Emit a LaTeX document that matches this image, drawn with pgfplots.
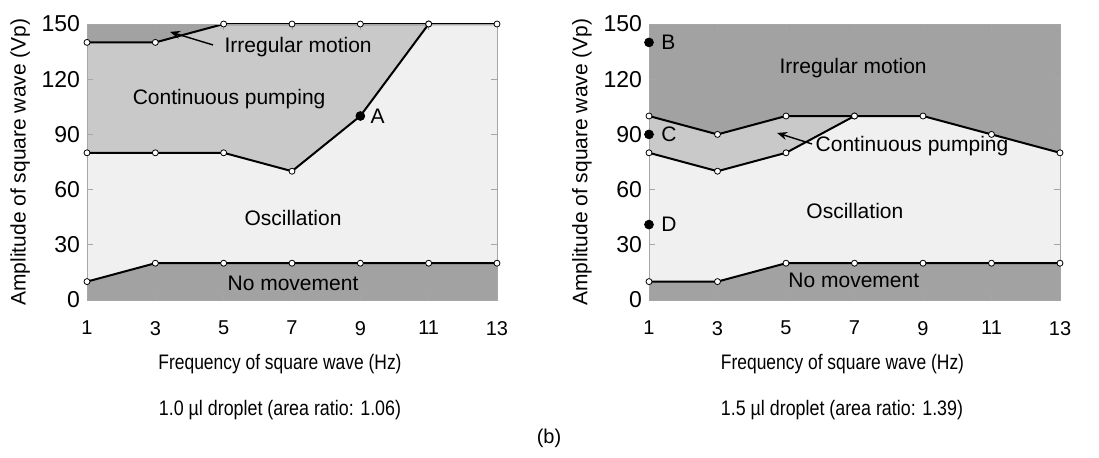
\documentclass[border=0pt]{standalone}
\usepackage{pgfplots}
\pgfplotsset{compat=1.18}
\usepackage{fontspec}
\setmainfont{Liberation Sans}
\usetikzlibrary{arrows.meta}

\definecolor{darkreg}{HTML}{A2A2A2}
\definecolor{midreg}{HTML}{C9C9C9}
\definecolor{lightreg}{HTML}{F0F0F0}

\pgfplotsset{
  regime/.style={
    scale only axis,
    width=205pt, height=138pt,
    xmin=1, xmax=13, ymin=0, ymax=150,
    xtick={1,3,...,13}, ytick={0,30,...,150},
    tick align=inside,
    major tick length=3pt,
    axis line style={gray!70, line width=0.5pt},
    tick style={gray!70, line width=0.5pt},
    clip=false,
    axis on top,
    /pgf/number format/assume math mode=true,
    xticklabel style={font=\fontsize{10}{12}\selectfont, yshift=-7pt},
    yticklabel style={font=\fontsize{11.5}{13}\selectfont},
    ylabel style={font=\fontsize{10.5}{12}\selectfont, at={(axis description cs:-0.163,0.5)}, anchor=center},
    xlabel style={font=\fontsize{10.5}{12}\selectfont, at={(axis description cs:0.5,0)}, anchor=center, yshift=-32pt, xshift=-6pt},
  },
  bound/.style={black, line width=1pt, mark=*, mark size=1.5pt, mark options={fill=white, draw=black, line width=0.4pt}},
  dot/.style={only marks, mark=*, mark size=2.2pt, mark options={fill=black, draw=black}},
}
\newcommand{\lbl}{\fontsize{10.5}{12}\selectfont}

\begin{document}
\begin{tikzpicture}
% left: 1.0 ul droplet
\begin{axis}[regime, at={(43.5pt,78.5pt)}, anchor=south west,
  ylabel={Amplitude of square wave (Vp)},
  xlabel={\scalebox{0.83}[1]{Frequency of square wave (Hz)}}]
\addplot[draw=none, fill=darkreg] coordinates {(1,0) (13,0) (13,150) (1,150)};
\addplot[draw=none, fill=midreg] coordinates {(1,140) (3,140) (5,150) (11,150) (9,100) (7,70) (5,80) (3,80) (1,80)};
\addplot[draw=none, fill=lightreg] coordinates {(1,80) (3,80) (5,80) (7,70) (9,100) (11,150) (13,150) (13,20) (11,20) (9,20) (7,20) (5,20) (3,20) (1,10)};
\addplot[bound] coordinates {(1,10) (3,20) (5,20) (7,20) (9,20) (11,20) (13,20)};
\addplot[bound] coordinates {(1,80) (3,80) (5,80) (7,70) (9,100) (11,150)};
\addplot[bound] coordinates {(1,140) (3,140) (5,150) (7,150) (9,150) (11,150) (13,150)};
\addplot[dot] coordinates {(9,100)};
\node[anchor=west, inner sep=0pt, font=\lbl] at (axis cs:9,100) [xshift=5pt] {A};
\node[font=\lbl] at (axis cs:7.18,137.5) {Irregular motion};
\node[font=\lbl] at (axis cs:5.16,109) {Continuous pumping};
\node[font=\lbl] at (axis cs:7.03,44.6) {Oscillation};
\node[font=\lbl] at (axis cs:7.03,9.2) {No movement};
\draw[-{Stealth[length=5pt,width=4pt]}, line width=0.7pt] (axis cs:4.69,138.6) -- (axis cs:3.43,145.7);
\end{axis}
\node[font=\fontsize{10.5}{12}\selectfont] at (140pt,23.5pt) {\scalebox{0.85}[1]{1.0 µl droplet (area ratio: 1.06)}};

% right: 1.5 ul droplet
\begin{axis}[regime, at={(324.5pt,78.5pt)}, anchor=south west,
  width=205.5pt,
  ylabel={Amplitude of square wave (Vp)},
  xlabel={\scalebox{0.83}[1]{Frequency of square wave (Hz)}}]
\addplot[draw=none, fill=darkreg] coordinates {(1,0) (13,0) (13,150) (1,150)};
\addplot[draw=none, fill=midreg] coordinates {(1,100) (3,90) (5,100) (7,100) (5,80) (3,70) (1,80)};
\addplot[draw=none, fill=lightreg] coordinates {(1,80) (3,70) (5,80) (7,100) (9,100) (11,90) (13,80) (13,20) (11,20) (9,20) (7,20) (5,20) (3,10) (1,10)};
\addplot[bound] coordinates {(1,10) (3,10) (5,20) (7,20) (9,20) (11,20) (13,20)};
\addplot[bound] coordinates {(1,80) (3,70) (5,80) (7,100) (9,100) (11,90) (13,80)};
\addplot[bound] coordinates {(1,100) (3,90) (5,100) (7,100)};
\addplot[dot] coordinates {(1,140) (1,90) (1,41)};
\node[anchor=west, inner sep=0pt, font=\lbl] at (axis cs:1,140) [xshift=6pt] {B};
\node[anchor=west, inner sep=0pt, font=\lbl] at (axis cs:1,90) [xshift=6pt] {C};
\node[anchor=west, inner sep=0pt, font=\lbl] at (axis cs:1,41) [xshift=6pt] {D};
\node[font=\lbl] at (axis cs:6.96,126) {Irregular motion};
\node[font=\lbl] at (axis cs:8.68,83.7) {Continuous pumping};
\node[font=\lbl] at (axis cs:7.01,48.4) {Oscillation};
\node[font=\lbl] at (axis cs:6.98,10.9) {No movement};
\draw[-{Stealth[length=5pt,width=4pt]}, line width=0.7pt] (axis cs:5.76,84.8) -- (axis cs:4.74,90.8);
\end{axis}
\node[font=\fontsize{10.5}{12}\selectfont] at (421pt,23.5pt) {\scalebox{0.85}[1]{1.5 µl droplet (area ratio: 1.39)}};

\node[font=\fontsize{10}{12}\selectfont] at (274.5pt,9.5pt) {(b)};

\pgfresetboundingbox
\path (0,0) rectangle (549.5pt,228.5pt);
\end{tikzpicture}
\end{document}
